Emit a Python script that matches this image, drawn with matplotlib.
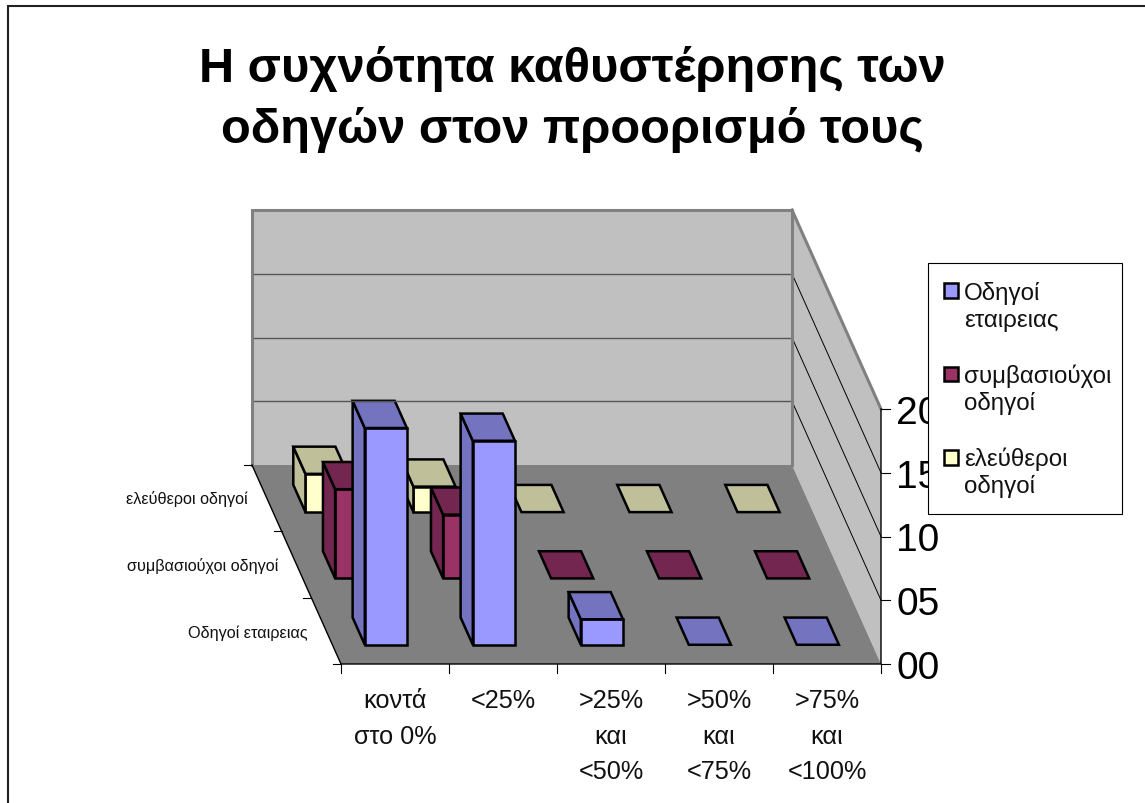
import matplotlib
matplotlib.use("Agg")
import matplotlib.pyplot as plt
from matplotlib.patches import Polygon, Rectangle

plt.rcParams['font.family'] = ['Liberation Sans', 'DejaVu Sans']

title_lines = ["Η συχνότητα καθυστέρησης των", "οδηγών στον προορισμό τους"]
categories = ["κοντά\nστο 0%", "<25%", ">25%\nκαι\n<50%", ">50%\nκαι\n<75%", ">75%\nκαι\n<100%"]
series_names = ["Οδηγοί εταιρειας", "συμβασιούχοι οδηγοί", "ελεύθεροι οδηγοί"]
legend_names = ["Οδηγοί\nεταιρειας", "συμβασιούχοι\nοδηγοί", "ελεύθεροι\nοδηγοί"]
company = [17, 16, 2, 0, 0]
contract = [7, 5, 0, 0, 0]
freelance = [3, 2, 0, 0, 0]
z_ticks = [0, 5, 10, 15, 20]
z_labels = ["00", "05", "10", "15", "20"]

front_colors = ["#9999FF", "#993366", "#FFFFCC"]
shade_colors = ["#7373BF", "#732650", "#BFBF99"]

# oblique projection of the chart box onto the page, in pixels
ORIGIN_X, ORIGIN_Y = 341, 665
CAT_W = 108
DEPTH_X, DEPTH_Y = -29.67, -66.33
UNIT_Z = 12.75


def project(cat, ser, val=0):
    return (ORIGIN_X + cat * CAT_W + ser * DEPTH_X,
            ORIGIN_Y + ser * DEPTH_Y - val * UNIT_Z)


def quad(ax, pts, face, edge="black", lw=1.8):
    ax.add_patch(Polygon(pts, closed=True, facecolor=face, edgecolor=edge,
                         linewidth=lw, joinstyle="miter"))


fig = plt.figure(figsize=(11.45, 8.04), dpi=100)
ax = fig.add_axes([0, 0, 1, 1])
ax.set_xlim(0, 1145)
ax.set_ylim(804, 0)
ax.axis("off")

# page frame: only the top and left rules are visible
ax.plot([8, 8, 1145], [804, 6.5, 6.5], color="#222222", lw=1.5, solid_joinstyle="miter")

for i, line in enumerate(title_lines):
    ax.text(572.5, 82 + i * 61, line, ha="center", va="baseline", fontsize=35.1, fontweight="bold")

# walls and floor
quad(ax, [project(0, 3, 20), project(5, 3, 20), project(5, 3, 0), project(0, 3, 0)], "#C0C0C0", "none")
quad(ax, [project(5, 3, 20), project(5, 0, 20), project(5, 0, 0), project(5, 3, 0)], "#C0C0C0", "none")
quad(ax, [project(0, 0), project(5, 0), project(5, 3), project(0, 3)], "#808080", "none")
for z in z_ticks[1:-1]:
    ax.plot(*zip(project(0, 3, z), project(5, 3, z)), color="#555555", lw=1)
    ax.plot(*zip(project(5, 3, z), project(5, 0, z)), color="black", lw=0.7)
ax.plot(*zip(project(0, 3, 0), project(0, 3, 20), project(5, 3, 20), project(5, 3, 0)),
        color="#808080", lw=2.2, solid_joinstyle="miter")
ax.plot(*zip(project(5, 3, 20), project(5, 0, 20)), color="#808080", lw=2.2)

# axis lines and ticks
ax.plot(*zip(project(0, 3), project(0, 0), project(5, 0), project(5, 0, 20)), color="black", lw=1,
        solid_joinstyle="miter")
for c in range(6):
    x, y = project(c, 0)
    ax.plot([x, x], [y, y + 9], color="black", lw=0.8)
for s in range(4):
    x, y = project(0, s)
    ax.plot([x - 8, x], [y, y], color="black", lw=0.8)
for z, label in zip(z_ticks, z_labels):
    x, y = project(5, 0, z)
    ax.plot([x, x + 9], [y, y], color="black", lw=0.8)
    ax.text(x + 15, y + 14, label, ha="left", va="baseline", fontsize=28)

for c, label in enumerate(categories):
    x, y = project(c + 0.5, 0)
    for i, part in enumerate(label.split("\n")):
        ax.text(x, 708 + i * 35.6, part, ha="center", va="baseline", fontsize=18.2, color="#111111")
series_right = [308, 278, 248]
series_base = [638, 571.5, 504]
for right, base, name in zip(series_right, series_base, series_names):
    ax.text(right, base, name, ha="right", va="baseline", fontsize=11.7, color="#111111")

# bars, back row first so nearer ones overlap
X0, X1 = 0.30, 0.69
D0, D1 = 0.29, 0.70
rows = [company, contract, freelance]
for s in range(2, -1, -1):
    for c, val in enumerate(rows[s]):
        a, b = c + X0, c + X1
        d0, d1 = s + D0, s + D1
        if val > 0:
            quad(ax, [project(a, d0, 0), project(b, d0, 0), project(b, d0, val), project(a, d0, val)], front_colors[s])
            quad(ax, [project(a, d0, 0), project(a, d1, 0), project(a, d1, val), project(a, d0, val)], shade_colors[s])
        quad(ax, [project(a, d0, val), project(b, d0, val), project(b, d1, val), project(a, d1, val)], shade_colors[s])

# legend
ax.add_patch(Rectangle((928, 263.5), 194, 251, facecolor="white", edgecolor="black", linewidth=0.8, zorder=5))
swatch_top = [284, 367.5, 451]
legend_base = [300, 383, 466]
for top, base, name, col in zip(swatch_top, legend_base, legend_names, front_colors):
    ax.add_patch(Rectangle((943.5, top), 14, 14.5, facecolor=col, edgecolor="black", linewidth=1.8, zorder=6))
    for i, part in enumerate(name.split("\n")):
        ax.text(964, base + i * 27.5, part, ha="left", va="baseline", fontsize=17.4, color="#111111", zorder=6)

fig.savefig("out.png", dpi=100)
